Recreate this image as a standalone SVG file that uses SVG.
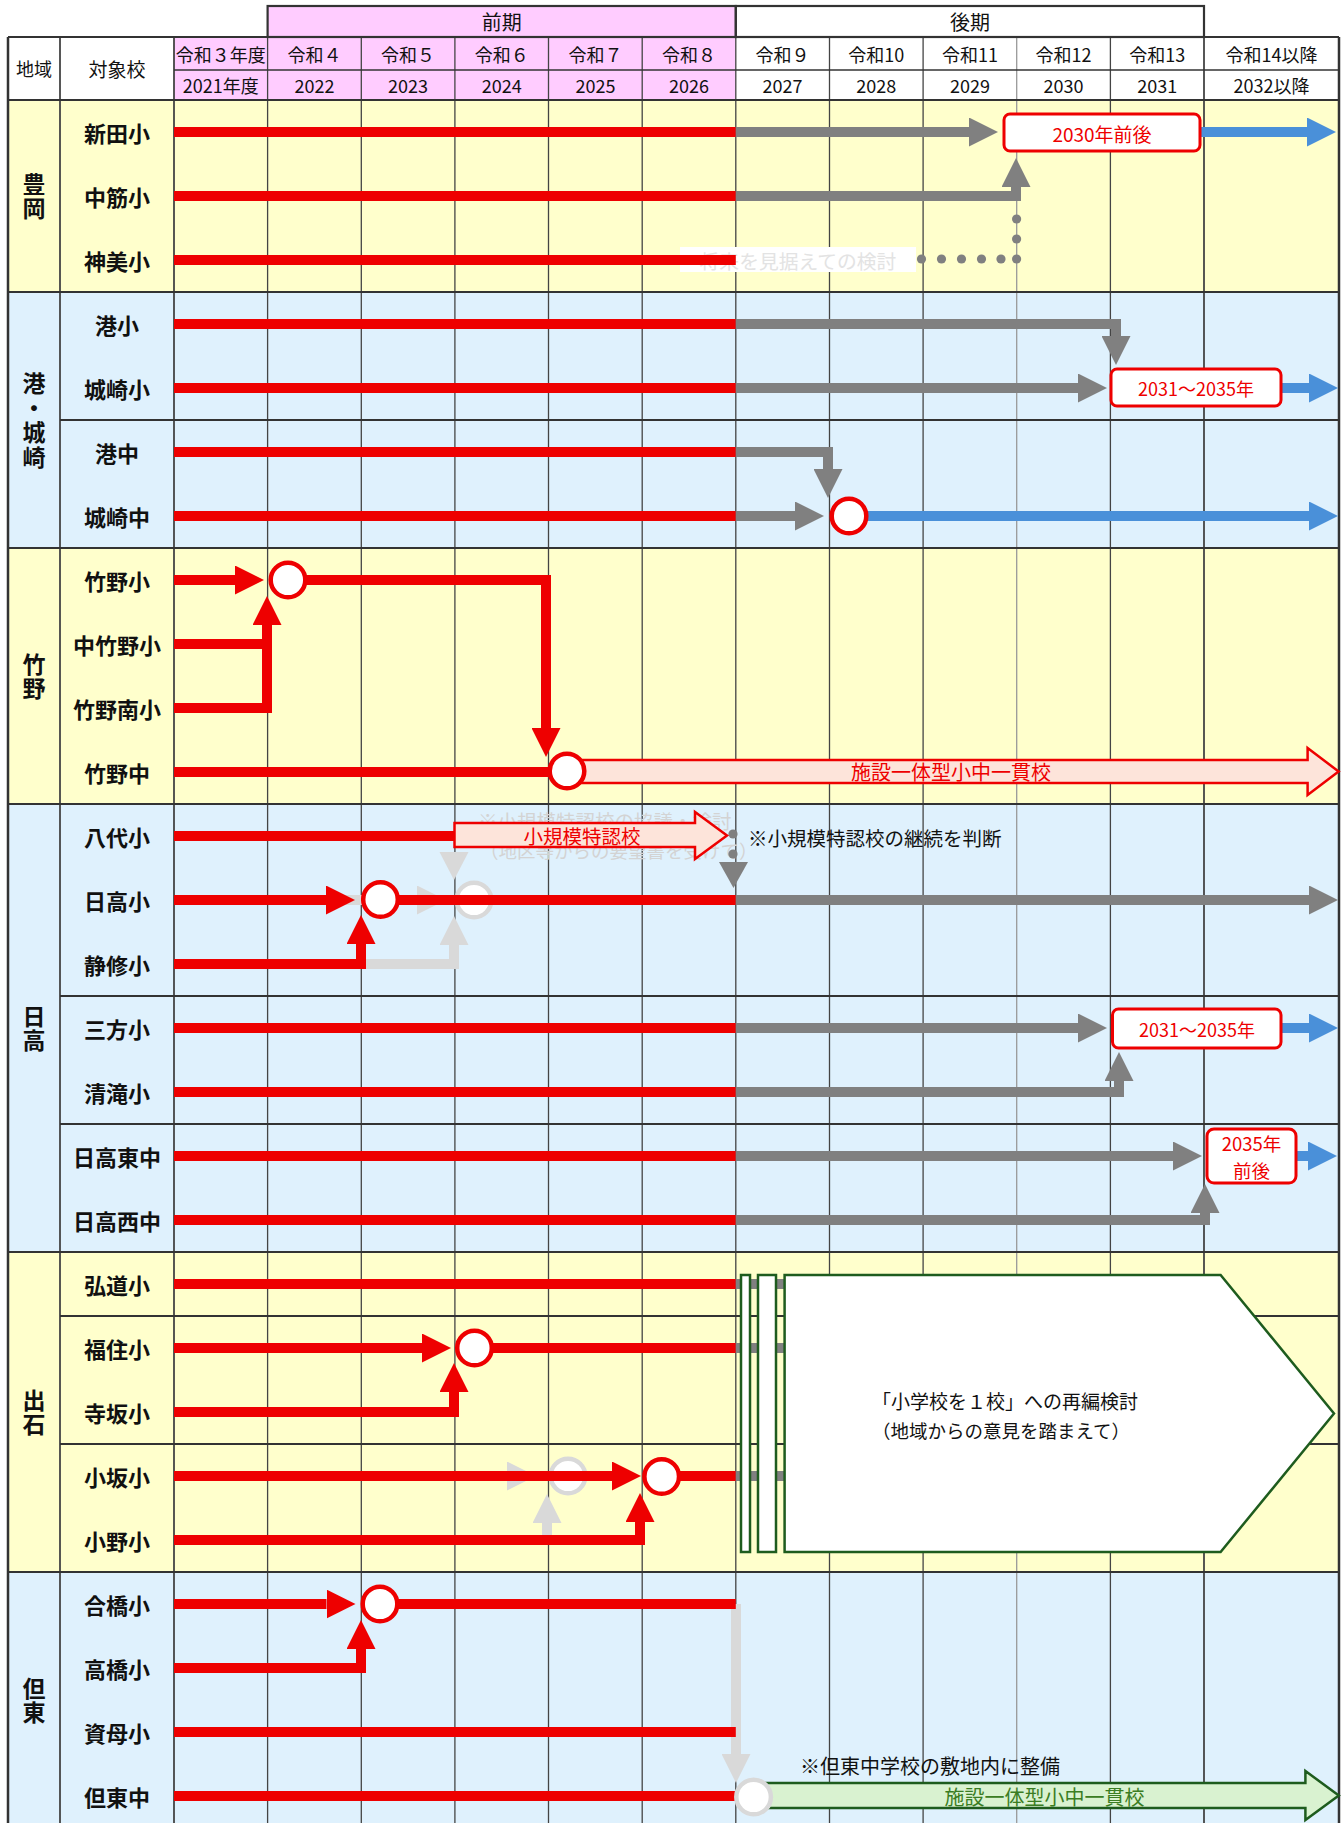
<svg xmlns="http://www.w3.org/2000/svg" width="1342" height="1823" viewBox="0 0 1342 1823">
<style>
text{font-family:'Noto Sans CJK JP','Noto Sans',sans-serif;}
.hd{font-size:18px;fill:#111;text-anchor:middle;dominant-baseline:central}
.hb{font-size:20px;fill:#111;text-anchor:middle;dominant-baseline:central}
.sch{font-size:22px;font-weight:700;fill:#111;text-anchor:middle;dominant-baseline:central}
.reg{font-size:23px;font-weight:700;fill:#111;text-anchor:middle;writing-mode:vertical-rl;letter-spacing:1.5px}
.bx{fill:#fff;stroke:#E00;stroke-width:3}
.bxt{font-size:19px;fill:#E00;text-anchor:middle;dominant-baseline:central}
.r{fill:none;stroke:#E00;stroke-width:10}
.g{fill:none;stroke:#808080;stroke-width:10}
.b{fill:none;stroke:#4A90D9;stroke-width:10}
.gh{fill:none;stroke:#D9D9D9;stroke-width:10}
.ring{fill:#fff;stroke:#E00;stroke-width:4.5}
.ghring{fill:#fff;stroke:#D9D9D9;stroke-width:4.5}
.dot{fill:#808080}
.vl{stroke:#444;stroke-width:1.3}
.vb{stroke:#333;stroke-width:2.5}
.hl{stroke:#333;stroke-width:2.2}
.fade{fill:#D3D3D3;dominant-baseline:central}
.note{font-size:19.5px;fill:#111;dominant-baseline:central}
.grn{fill:#fff;stroke:#1E5C1E;stroke-width:2.5}
</style>
<defs>
<marker id="ah-r" markerUnits="userSpaceOnUse" markerWidth="29" markerHeight="29" viewBox="0 0 29 29" refX="0" refY="14.5" orient="auto"><path d="M0,0 L29,14.5 L0,29 Z" fill="#E00"/></marker>
<marker id="ah-g" markerUnits="userSpaceOnUse" markerWidth="29" markerHeight="29" viewBox="0 0 29 29" refX="0" refY="14.5" orient="auto"><path d="M0,0 L29,14.5 L0,29 Z" fill="#808080"/></marker>
<marker id="ah-b" markerUnits="userSpaceOnUse" markerWidth="29" markerHeight="29" viewBox="0 0 29 29" refX="0" refY="14.5" orient="auto"><path d="M0,0 L29,14.5 L0,29 Z" fill="#4A90D9"/></marker>
<marker id="ah-gh" markerUnits="userSpaceOnUse" markerWidth="29" markerHeight="29" viewBox="0 0 29 29" refX="0" refY="14.5" orient="auto"><path d="M0,0 L29,14.5 L0,29 Z" fill="#D9D9D9"/></marker>
</defs>

<g id="background">
<rect x="0" y="0" width="1342" height="1823" fill="#fff"/>
<rect x="8" y="100" width="1331" height="192" fill="#FFFFCC"/>
<rect x="8" y="292" width="1331" height="256" fill="#DFF1FD"/>
<rect x="8" y="548" width="1331" height="256" fill="#FFFFCC"/>
<rect x="8" y="804" width="1331" height="448" fill="#DFF1FD"/>
<rect x="8" y="1252" width="1331" height="320" fill="#FFFFCC"/>
<rect x="8" y="1572" width="1331" height="251" fill="#DFF1FD"/>
<rect x="174" y="37" width="561.8" height="63" fill="#FFCCFF"/>
<rect x="267.6" y="6" width="468.2" height="31" fill="#FFCCFF"/>
</g>

<g id="grid">
<line class="vl" x1="267.6" y1="37" x2="267.6" y2="1823"/>
<line class="vl" x1="361.3" y1="37" x2="361.3" y2="1823"/>
<line class="vl" x1="454.9" y1="37" x2="454.9" y2="1823"/>
<line class="vl" x1="548.5" y1="37" x2="548.5" y2="1823"/>
<line class="vl" x1="642.2" y1="37" x2="642.2" y2="1823"/>
<line class="vl" x1="735.8" y1="37" x2="735.8" y2="1823"/>
<line class="vl" x1="829.5" y1="37" x2="829.5" y2="1823"/>
<line class="vl" x1="923.1" y1="37" x2="923.1" y2="1823"/>
<line class="vl" x1="1016.7" y1="37" x2="1016.7" y2="1823" style="stroke:#999"/>
<line class="vl" x1="1110.4" y1="37" x2="1110.4" y2="1823"/>
<line class="vl" x1="1204" y1="37" x2="1204" y2="1823" style="stroke-width:1.8"/>
<line class="vl" x1="60" y1="37" x2="60" y2="1823" style="stroke-width:1.8"/>
<line class="vl" x1="174" y1="37" x2="174" y2="1823" style="stroke-width:1.8"/>
<line class="vb" x1="8" y1="37" x2="8" y2="1823"/>
<line class="vb" x1="1339" y1="37" x2="1339" y2="1823"/>
<rect x="267.6" y="6" width="468.2" height="31" fill="none" stroke="#333" stroke-width="2.2"/>
<rect x="735.8" y="6" width="468.2" height="31" fill="none" stroke="#333" stroke-width="2.2"/>
<line class="hl" x1="8" y1="37" x2="1339" y2="37"/>
<line class="hl" x1="174" y1="70" x2="1339" y2="70" style="stroke-width:1.6"/>
<line class="hl" x1="8" y1="100" x2="1339" y2="100"/>
<line class="hl" x1="8" y1="292" x2="1339" y2="292"/>
<line class="hl" x1="8" y1="548" x2="1339" y2="548"/>
<line class="hl" x1="8" y1="804" x2="1339" y2="804"/>
<line class="hl" x1="8" y1="1252" x2="1339" y2="1252"/>
<line class="hl" x1="8" y1="1572" x2="1339" y2="1572"/>
<line class="hl" x1="60" y1="420" x2="1339" y2="420"/>
<line class="hl" x1="60" y1="996" x2="1339" y2="996"/>
<line class="hl" x1="60" y1="1124" x2="1339" y2="1124"/>
<line class="hl" x1="60" y1="1316" x2="1339" y2="1316"/>
<line class="hl" x1="60" y1="1444" x2="1339" y2="1444"/>
</g>

<g id="header">
<text class="hb" x="501.7" y="21">前期</text>
<text class="hb" x="969.9" y="21">後期</text>
<text class="hd" x="34" y="68">地域</text>
<text class="hd" x="117" y="68" style="font-size:19px">対象校</text>
<text class="hd" x="220.8" y="53.5">令和３年度</text>
<text class="hd" x="314.4" y="53.5">令和４</text>
<text class="hd" x="408.1" y="53.5">令和５</text>
<text class="hd" x="501.7" y="53.5">令和６</text>
<text class="hd" x="595.4" y="53.5">令和７</text>
<text class="hd" x="689" y="53.5">令和８</text>
<text class="hd" x="782.6" y="53.5">令和９</text>
<text class="hd" x="876.3" y="53.5">令和10</text>
<text class="hd" x="969.9" y="53.5">令和11</text>
<text class="hd" x="1063.5" y="53.5">令和12</text>
<text class="hd" x="1157.2" y="53.5">令和13</text>
<text class="hd" x="1271.5" y="53.5">令和14以降</text>
<text class="hd" x="220.8" y="85">2021年度</text>
<text class="hd" x="314.4" y="85">2022</text>
<text class="hd" x="408.1" y="85">2023</text>
<text class="hd" x="501.7" y="85">2024</text>
<text class="hd" x="595.4" y="85">2025</text>
<text class="hd" x="689" y="85">2026</text>
<text class="hd" x="782.6" y="85">2027</text>
<text class="hd" x="876.3" y="85">2028</text>
<text class="hd" x="969.9" y="85">2029</text>
<text class="hd" x="1063.5" y="85">2030</text>
<text class="hd" x="1157.2" y="85">2031</text>
<text class="hd" x="1271.5" y="85">2032以降</text>
</g>

<g id="region-toyooka"><text class="reg" x="34" y="197">豊岡</text></g>
<g id="region-minato-kinosaki"><text class="reg" x="34" y="421">港・城崎</text></g>
<g id="region-takeno"><text class="reg" x="34" y="677">竹野</text></g>
<g id="region-hidaka"><text class="reg" x="34" y="1029">日高</text></g>
<g id="region-izushi"><text class="reg" x="34" y="1413">出石</text></g>
<g id="region-tanto"><text class="reg" x="34" y="1701">但東</text></g>

<g id="school-01"><text class="sch" x="117" y="132">新田小</text></g>
<g id="school-02"><text class="sch" x="117" y="196">中筋小</text></g>
<g id="school-03"><text class="sch" x="117" y="260">神美小</text></g>
<g id="school-04"><text class="sch" x="117" y="324">港小</text></g>
<g id="school-05"><text class="sch" x="117" y="388">城崎小</text></g>
<g id="school-06"><text class="sch" x="117" y="452">港中</text></g>
<g id="school-07"><text class="sch" x="117" y="516">城崎中</text></g>
<g id="school-08"><text class="sch" x="117" y="580">竹野小</text></g>
<g id="school-09"><text class="sch" x="117" y="644">中竹野小</text></g>
<g id="school-10"><text class="sch" x="117" y="708">竹野南小</text></g>
<g id="school-11"><text class="sch" x="117" y="772">竹野中</text></g>
<g id="school-12"><text class="sch" x="117" y="836">八代小</text></g>
<g id="school-13"><text class="sch" x="117" y="900">日高小</text></g>
<g id="school-14"><text class="sch" x="117" y="964">静修小</text></g>
<g id="school-15"><text class="sch" x="117" y="1028">三方小</text></g>
<g id="school-16"><text class="sch" x="117" y="1092">清滝小</text></g>
<g id="school-17"><text class="sch" x="117" y="1156">日高東中</text></g>
<g id="school-18"><text class="sch" x="117" y="1220">日高西中</text></g>
<g id="school-19"><text class="sch" x="117" y="1284">弘道小</text></g>
<g id="school-20"><text class="sch" x="117" y="1348">福住小</text></g>
<g id="school-21"><text class="sch" x="117" y="1412">寺坂小</text></g>
<g id="school-22"><text class="sch" x="117" y="1476">小坂小</text></g>
<g id="school-23"><text class="sch" x="117" y="1540">小野小</text></g>
<g id="school-24"><text class="sch" x="117" y="1604">合橋小</text></g>
<g id="school-25"><text class="sch" x="117" y="1668">高橋小</text></g>
<g id="school-26"><text class="sch" x="117" y="1732">資母小</text></g>
<g id="school-27"><text class="sch" x="117" y="1796">但東中</text></g>

<g id="faded-notes">
<rect x="680" y="247" width="236" height="25" fill="#fff"/>
<text class="fade" x="798" y="260" text-anchor="middle" style="font-size:19.8px;fill:#E3E3E3">将来を見据えての検討</text>
<text class="fade" x="478" y="820" style="font-size:19.5px">※小規模特認校の協議・検討</text>
<text class="fade" x="480" y="850" style="font-size:18.5px">（地区等からの要望書を受けて）</text>
</g>

<g id="ghost-connectors">
<path class="gh" d="M174,900 H417" marker-end="url(#ah-gh)"/>
<circle class="ghring" cx="474" cy="900" r="17.3"/>
<polygon points="439.5,852 468.5,852 454,880" fill="#D9D9D9"/>
<path class="gh" d="M174,964 H454 V945" marker-end="url(#ah-gh)"/>
<path class="gh" d="M174,1476 H507" marker-end="url(#ah-gh)"/>
<circle class="ghring" cx="568" cy="1476" r="17.3"/>
<path class="gh" d="M174,1540 H547 V1523" marker-end="url(#ah-gh)"/>
<path class="gh" d="M736,1604 V1754" marker-end="url(#ah-gh)"/>
</g>

<g id="connectors">
<path class="r" d="M174,132 H735.8"/>
<path class="g" d="M735.8,132 H969" marker-end="url(#ah-g)"/>
<path class="b" d="M1200,132 H1307" marker-end="url(#ah-b)"/>
<path class="r" d="M174,196 H735.8"/>
<path class="g" d="M735.8,196 H1016 V187" marker-end="url(#ah-g)"/>
<path class="r" d="M174,260 H735.8"/>
<circle class="dot" cx="921.5" cy="259" r="4.6"/>
<circle class="dot" cx="941.5" cy="259" r="4.6"/>
<circle class="dot" cx="961.5" cy="259" r="4.6"/>
<circle class="dot" cx="981.5" cy="259" r="4.6"/>
<circle class="dot" cx="1001" cy="259" r="4.6"/>
<circle class="dot" cx="1016.6" cy="259" r="4.6"/>
<circle class="dot" cx="1016.6" cy="239" r="4.6"/>
<circle class="dot" cx="1016.6" cy="219" r="4.6"/>
<path class="r" d="M174,324 H735.8"/>
<path class="g" d="M735.8,324 H1116 V336" marker-end="url(#ah-g)"/>
<path class="r" d="M174,388 H735.8"/>
<path class="g" d="M735.8,388 H1078" marker-end="url(#ah-g)"/>
<path class="b" d="M1281,388 H1309" marker-end="url(#ah-b)"/>
<path class="r" d="M174,452 H735.8"/>
<path class="g" d="M735.8,452 H828 V469" marker-end="url(#ah-g)"/>
<path class="r" d="M174,516 H735.8"/>
<path class="g" d="M735.8,516 H795" marker-end="url(#ah-g)"/>
<path class="b" d="M866,516 H1309" marker-end="url(#ah-b)"/>
<path class="r" d="M174,580 H235" marker-end="url(#ah-r)"/>
<path class="r" d="M300,580 H546 V728" marker-end="url(#ah-r)"/>
<path class="r" d="M174,644 H267"/>
<path class="r" d="M174,708 H267 V625" marker-end="url(#ah-r)"/>
<path class="r" d="M174,772 H552"/>
<path class="r" d="M174,836 H456"/>
<circle class="dot" cx="733" cy="834" r="4.6"/>
<circle class="dot" cx="733" cy="854" r="4.6"/>
<polygon points="719,862 748,862 733.5,888" fill="#808080"/>
<path class="r" d="M174,900 H326" marker-end="url(#ah-r)"/>
<path class="r" d="M395,900 H735.8"/>
<path class="g" d="M735.8,900 H1309" marker-end="url(#ah-g)"/>
<path class="r" d="M174,964 H361 V944" marker-end="url(#ah-r)"/>
<path class="r" d="M174,1028 H735.8"/>
<path class="g" d="M735.8,1028 H1078" marker-end="url(#ah-g)"/>
<path class="b" d="M1281,1028 H1309" marker-end="url(#ah-b)"/>
<path class="r" d="M174,1092 H735.8"/>
<path class="g" d="M735.8,1092 H1119 V1081" marker-end="url(#ah-g)"/>
<path class="r" d="M174,1156 H735.8"/>
<path class="g" d="M735.8,1156 H1173" marker-end="url(#ah-g)"/>
<path class="b" d="M1296,1156 H1308" marker-end="url(#ah-b)"/>
<path class="r" d="M174,1220 H735.8"/>
<path class="g" d="M735.8,1220 H1205 V1213" marker-end="url(#ah-g)"/>
<path class="r" d="M174,1284 H735.8"/>
<path class="g" d="M735.8,1284 H786"/>
<path class="r" d="M174,1348 H422" marker-end="url(#ah-r)"/>
<path class="r" d="M490,1348 H735.8"/>
<path class="g" d="M735.8,1348 H786"/>
<path class="r" d="M174,1412 H454 V1392" marker-end="url(#ah-r)"/>
<path class="r" d="M174,1476 H612" marker-end="url(#ah-r)"/>
<path class="r" d="M677,1476 H735.8"/>
<path class="g" d="M735.8,1476 H786"/>
<path class="r" d="M174,1540 H640 V1522" marker-end="url(#ah-r)"/>
<path class="r" d="M174,1604 H326.5" marker-end="url(#ah-r)"/>
<path class="r" d="M395,1604 H735.8"/>
<path class="r" d="M174,1668 H361 V1649" marker-end="url(#ah-r)"/>
<path class="r" d="M174,1732 H735.8"/>
<path class="r" d="M174,1796 H735.8"/>
</g>

<g id="node-2030">
<rect class="bx" x="1004" y="114" width="196" height="37" rx="6"/>
<text class="bxt" x="1102" y="133">2030年前後</text>
</g>
<g id="node-kinosaki-2031">
<rect class="bx" x="1111" y="369" width="170" height="37" rx="6"/>
<text class="bxt" x="1196" y="388" style="font-size:18px">2031～2035年</text>
</g>
<g id="node-kinosaki-merge"><circle class="ring" cx="849" cy="516" r="17.3"/></g>
<g id="node-takeno-merge"><circle class="ring" cx="288" cy="580" r="17.3"/></g>
<g id="node-takeno-ikkan">
<polygon points="575,760 1307.6,760 1307.6,748 1338.6,771.5 1307.6,795 1307.6,783 575,783" fill="#FDE4DA" stroke="#E00" stroke-width="2.5"/>
<circle class="ring" cx="567" cy="771" r="17.3"/>
<text x="951" y="771.5" text-anchor="middle" dominant-baseline="central" style="font-size:20px;fill:#E00">施設一体型小中一貫校</text>
</g>
<g id="node-yashiro-tokunin">
<polygon points="454.5,823 695,823 695,812 727,835.5 695,859 695,847 454.5,847" fill="#FDE4DA" stroke="#E00" stroke-width="2.5"/>
<text x="582" y="835.5" text-anchor="middle" dominant-baseline="central" style="font-size:19.5px;fill:#E00">小規模特認校</text>
</g>
<g id="note-yashiro"><text class="note" x="748" y="837">※小規模特認校の継続を判断</text></g>
<g id="node-hidaka-merge"><circle class="ring" cx="380.5" cy="899.5" r="17.3"/></g>
<g id="node-mikata-2031">
<rect class="bx" x="1112.5" y="1009" width="168.5" height="39" rx="6"/>
<text class="bxt" x="1197" y="1028.5" style="font-size:18px">2031～2035年</text>
</g>
<g id="node-2035">
<rect class="bx" x="1207" y="1129" width="89" height="54" rx="7"/>
<text class="bxt" x="1251.5" y="1142.5" style="font-size:18.5px">2035年</text>
<text class="bxt" x="1251.5" y="1169.5" style="font-size:18.5px">前後</text>
</g>
<g id="node-fukusumi-merge"><circle class="ring" cx="474.5" cy="1348" r="17.3"/></g>
<g id="node-kosaka-merge"><circle class="ring" cx="661.7" cy="1476.5" r="17.3"/></g>
<g id="node-izushi-review">
<rect class="grn" x="741" y="1275" width="9" height="277"/>
<rect class="grn" x="758" y="1275" width="18" height="277"/>
<path class="grn" d="M784.6,1275 H1220.6 L1334,1413.5 L1220.6,1552 H784.6 Z"/>
<text x="872" y="1400" dominant-baseline="central" style="font-size:19px;fill:#111">「小学校を１校」への再編検討</text>
<text x="872" y="1430" dominant-baseline="central" style="font-size:18.5px;fill:#111">（地域からの意見を踏まえて）</text>
</g>
<g id="node-ohashi-merge"><circle class="ring" cx="380" cy="1604" r="17.3"/></g>
<g id="node-tanto-ikkan">
<polygon points="765,1783 1305.4,1783 1305.4,1771 1338.8,1795.5 1305.4,1820 1305.4,1808 765,1808" fill="#D9F2D0" stroke="#1E5C1E" stroke-width="2.5"/>
<circle class="ghring" cx="753.6" cy="1797" r="17.3"/>
<text x="1044.5" y="1796" text-anchor="middle" dominant-baseline="central" style="font-size:20px;fill:#3B7D23">施設一体型小中一貫校</text>
</g>
<g id="note-tanto"><text class="note" x="800" y="1765" style="font-size:20px">※但東中学校の敷地内に整備</text></g>
</svg>
